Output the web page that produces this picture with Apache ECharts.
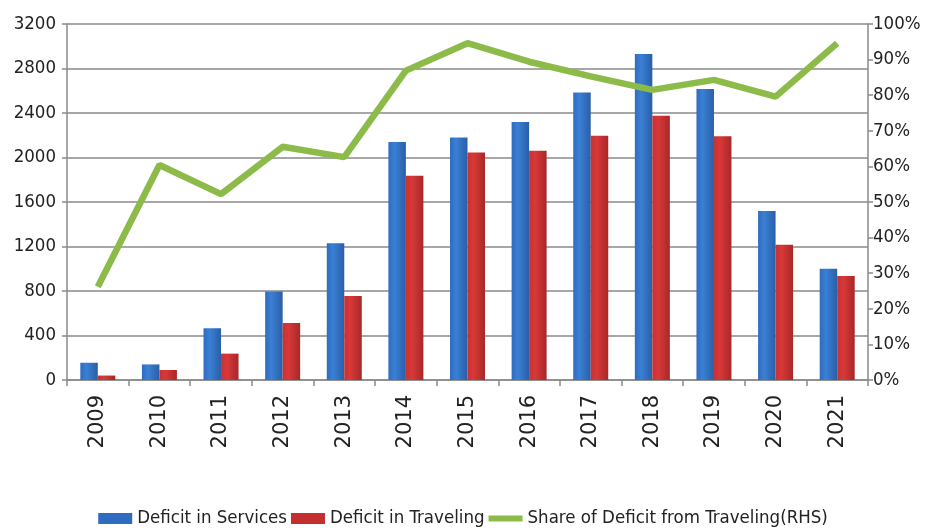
<!DOCTYPE html>
<html>
<head>
<meta charset="utf-8">
<style>
  html, body { margin: 0; padding: 0; background: #ffffff; }
  #chart { width: 926px; height: 528px; }
</style>
<script src="https://cdn.jsdelivr.net/npm/echarts@6/dist/echarts.min.js"></script>
</head>
<body>
<div id="chart"></div>
<script>
// Years on the category axis
const years = ['2009','2010','2011','2012','2013','2014','2015','2016','2017','2018','2019','2020','2021'];
// Deficit in services (left axis)
const deficitServices = [155, 140, 465, 795, 1230, 2140, 2180, 2320, 2585, 2930, 2615, 1520, 1000];
// Deficit in traveling (left axis)
const deficitTraveling = [40, 90, 237, 512, 755, 1835, 2045, 2060, 2195, 2375, 2190, 1215, 935];
// Share of the deficit coming from traveling, right axis (%)
const shareTraveling = [26.2, 60.4, 52.2, 65.5, 62.6, 86.9, 94.6, 89.4, 85.3, 81.5, 84.3, 79.6, 94.6];

const leftTicks = { min: 0, max: 3200, interval: 400 };
const rightTicks = { min: 0, max: 100, interval: 10 };

const condensed = '"DejaVu Sans Condensed", "DejaVu Sans", sans-serif';
const axisGray = '#8a8a8a';

function barGradient(light, mid, dark) {
  return new echarts.graphic.LinearGradient(0, 0, 1, 0, [
    { offset: 0, color: mid },
    { offset: 0.35, color: light },
    { offset: 1, color: dark }
  ]);
}

const chart = echarts.init(document.getElementById('chart'), null, { renderer: 'canvas' });

chart.setOption({
  animation: false,
  backgroundColor: '#ffffff',
  grid: { left: 67, right: 58, top: 24, bottom: 148 },
  legend: {
    top: 504,
    left: 'center',
    itemWidth: 34,
    itemHeight: 11,
    itemGap: 4,
    textStyle: { fontFamily: condensed, fontSize: 18.5, color: '#222' },
    data: [
      { name: 'Deficit in Services', icon: 'rect', itemStyle: { color: '#2f6cc0' } },
      { name: 'Deficit in Traveling', icon: 'rect', itemStyle: { color: '#c43030' } },
      {
        name: 'Share of Deficit from Traveling(RHS)',
        icon: 'path://M0,2 L40,2 L40,9 L0,9 Z',
        itemStyle: { color: '#8cbb4a' },
        lineStyle: { width: 0, opacity: 0 }
      }
    ]
  },
  xAxis: {
    type: 'category',
    data: years,
    axisLine: { lineStyle: { color: axisGray, width: 1.5 } },
    axisTick: { show: true, length: 6, alignWithLabel: false, lineStyle: { color: axisGray, width: 1.5 } },
    axisLabel: {
      rotate: 90,
      margin: 15,
      fontFamily: '"DejaVu Sans", sans-serif',
      fontSize: 21,
      color: '#222'
    }
  },
  yAxis: [
    {
      type: 'value',
      min: leftTicks.min,
      max: leftTicks.max,
      interval: leftTicks.interval,
      axisLine: { show: true, lineStyle: { color: axisGray, width: 1.5 } },
      axisTick: { show: true, length: 5, lineStyle: { color: axisGray, width: 1.5 } },
      splitLine: { show: true, lineStyle: { color: axisGray, width: 1.5 } },
      axisLabel: {
        margin: 11,
        fontFamily: condensed,
        fontSize: 18.5,
        color: '#222',
        formatter: (v) => String(v)
      }
    },
    {
      type: 'value',
      position: 'right',
      min: rightTicks.min,
      max: rightTicks.max,
      interval: rightTicks.interval,
      axisLine: { show: true, lineStyle: { color: axisGray, width: 1.5 } },
      axisTick: { show: true, length: 5, lineStyle: { color: axisGray, width: 1.5 } },
      splitLine: { show: false },
      axisLabel: { margin: 5, fontFamily: condensed, fontSize: 18.5, color: '#222', formatter: '{value}%' }
    }
  ],
  series: [
    {
      name: 'Deficit in Services',
      type: 'bar',
      yAxisIndex: 0,
      data: deficitServices,
      barWidth: 17.5,
      barGap: '0%',
      itemStyle: { color: barGradient('#3a80d4', '#2f6cc0', '#2a5ea8') }
    },
    {
      name: 'Deficit in Traveling',
      type: 'bar',
      yAxisIndex: 0,
      data: deficitTraveling,
      barWidth: 17.5,
      barGap: '0%',
      itemStyle: { color: barGradient('#d83838', '#c83232', '#a82828') }
    },
    {
      name: 'Share of Deficit from Traveling(RHS)',
      type: 'line',
      yAxisIndex: 1,
      data: shareTraveling,
      symbol: 'none',
      lineStyle: { color: '#8cbb4a', width: 6.5 },
      itemStyle: { color: '#8cbb4a' },
      z: 5
    }
  ]
});
</script>
</body>
</html>
